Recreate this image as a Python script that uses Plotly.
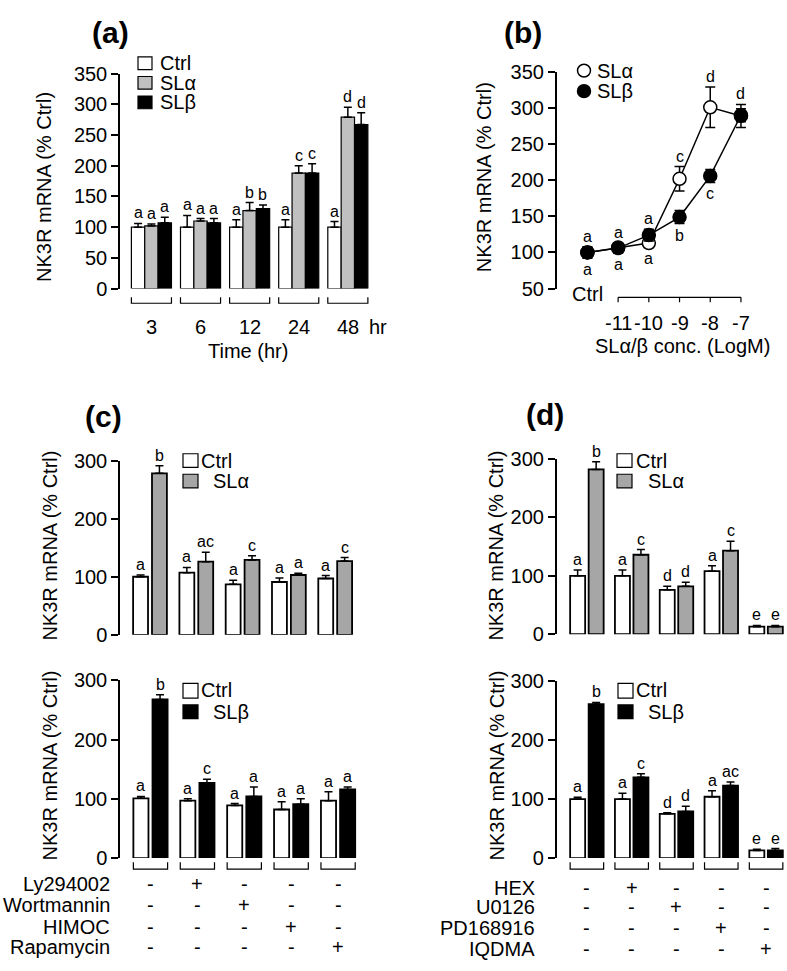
import plotly.graph_objects as go

W, H = 787, 971
FONT = "Liberation Sans, Arial, sans-serif"

# (a) time course
times = ["3", "6", "12", "24", "48"]
a_ctrl = [100, 100, 100, 100, 100]
a_ctrl_err = [6, 19, 12, 12, 9]
a_sla = [102, 110, 127, 188, 279]
a_sla_err = [3, 4, 13, 12, 16]
a_slb = [107, 107, 130, 188, 267]
a_slb_err = [9, 7, 6, 15, 19]
a_ctrl_lab = ["a", "a", "a", "a", "a"]
a_sla_lab = ["a", "a", "b", "c", "d"]
a_slb_lab = ["a", "a", "b", "c", "d"]

# (b) dose response
conc_labels = ["Ctrl", "-11", "-10", "-9", "-8", "-7"]
conc_x = [-12, -11, -10, -9, -8, -7]
b_sla = [100, 107, 113, 202, 301, 289]
b_sla_err = [7, 6, 6, 17, 28, 16]
b_slb = [100, 106, 124, 149, 206, 290]
b_slb_err = [8, 7, 8, 9, 9, 9]
b_lab_top = ["a", "a", "a", "c", "d", "d"]
b_lab_bot = ["a", "a", "a", "b", "c", ""]

# (c) PI3K / mTOR inhibitors
c_inhib = ["Ly294002", "Wortmannin", "HIMOC", "Rapamycin"]
c_ctrl_a = [100, 107, 87, 91, 97]
c_ctrl_a_err = [3, 9, 7, 7, 5]
c_sla = [278, 126, 129, 103, 127]
c_sla_err = [13, 16, 7, 3, 6]
c_ctrl_a_lab = ["a", "a", "a", "a", "a"]
c_sla_lab = ["b", "ac", "c", "a", "c"]
c_ctrl_b = [101, 97, 89, 82, 97]
c_ctrl_b_err = [3, 3, 3, 13, 15]
c_slb = [268, 127, 104, 91, 116]
c_slb_err = [8, 6, 16, 9, 4]
c_ctrl_b_lab = ["a", "a", "a", "a", "a"]
c_slb_lab = ["b", "c", "a", "a", "a"]

# (d) MAPK inhibitors
d_inhib = ["HEX", "U0126", "PD168916", "IQDMA"]
d_ctrl_a = [100, 100, 76, 108, 13]
d_ctrl_a_err = [10, 10, 6, 9, 2]
d_sla = [282, 136, 82, 143, 13]
d_sla_err = [13, 9, 7, 16, 2]
d_ctrl_a_lab = ["a", "a", "d", "a", "e"]
d_sla_lab = ["b", "c", "d", "c", "e"]
d_ctrl_b = [100, 100, 75, 104, 13]
d_ctrl_b_err = [3, 10, 2, 10, 2]
d_slb = [261, 137, 79, 123, 13]
d_slb_err = [3, 6, 9, 6, 3]
d_ctrl_b_lab = ["a", "a", "d", "a", "e"]
d_slb_lab = ["b", "c", "d", "ac", "e"]

GRAY_A = "#c0c0c0"
GRAY_C = "#a6a6a6"
FS = 20     # label font size
FL = 16     # significance letters


def px(x):
    return x / W


def py(y):
    return 1 - y / H


fig = go.Figure()
annotations = []
shapes = []


def text(t, x, y, size=FS, xanchor="center", yanchor="middle", xref="paper", yref="paper", **kw):
    if xref == "paper":
        x = px(x)
    if yref == "paper":
        y = py(y)
    annotations.append(dict(text=t, x=x, y=y, xref=xref, yref=yref, showarrow=False,
                            xanchor=xanchor, yanchor=yanchor,
                            font=dict(size=size, color="black", family=FONT), **kw))


def bars(vals, errs, labs, color, xa, ya, off, w, lw=1.2):
    n = len(vals)
    fig.add_trace(go.Bar(
        x=list(range(n)), y=vals, width=w, offset=off, xaxis=xa, yaxis=ya,
        marker=dict(color=color, line=dict(color="black", width=lw)),
        error_y=dict(type="data", symmetric=False, array=errs, arrayminus=[0] * n,
                     color="black", thickness=1.5, width=4),
        showlegend=False, hoverinfo="skip"))
    for i, (v, e, l) in enumerate(zip(vals, errs, labs)):
        text(l, i + off + w / 2, v + e, size=FL, xref=xa, yref=ya, yanchor="bottom", yshift=0)


def brackets(n, xa, left, right, top, bot):
    for i in range(n):
        shapes.append(dict(type="path", xref=xa, yref="paper",
                           path=f"M {i + left},{py(top)} L {i + left},{py(bot)} L {i + right},{py(bot)} L {i + right},{py(top)}",
                           line=dict(color="black", width=1.2)))


def sq(x0, x1, y0, y1, color):
    shapes.append(dict(type="rect", xref="paper", yref="paper", x0=px(x0), x1=px(x1),
                       y0=py(y1), y1=py(y0), fillcolor=color, line=dict(color="black", width=1.2)))


# ---- (a)
wa = 0.272
bars(a_ctrl, a_ctrl_err, a_ctrl_lab, "white", "x", "y", -1.5 * wa, wa)
bars(a_sla, a_sla_err, a_sla_lab, GRAY_A, "x", "y", -0.5 * wa, wa)
bars(a_slb, a_slb_err, a_slb_lab, "black", "x", "y", 0.5 * wa, wa)
brackets(len(times), "x", -1.5 * wa, 1.5 * wa, 293, 299)
for i, t in enumerate(times):
    text(t, i, 323, xref="x")
text("hr", 378, 323)
text("Time (hr)", 248, 348)
text("NK3R mRNA (% Ctrl)", 44, 180, textangle=-90)
text("<b>(a)</b>", 110, 22, size=30)
for (lab, col, yc) in [("Ctrl", "white", 53.5), ("SLα", GRAY_A, 73.5), ("SLβ", "black", 93.5)]:
    sq(138, 152, yc - 6.5, yc + 6.5, col)
    text(lab, 158, yc, xanchor="left")

# ---- (b)
fig.add_trace(go.Scatter(
    x=conc_x, y=b_sla, xaxis="x2", yaxis="y2", mode="lines+markers",
    line=dict(color="black", width=1.5),
    marker=dict(symbol="circle", size=13, color="white", line=dict(color="black", width=1.5)),
    error_y=dict(type="data", array=b_sla_err, color="black", thickness=1.5, width=5),
    showlegend=False, hoverinfo="skip"))
fig.add_trace(go.Scatter(
    x=conc_x, y=b_slb, xaxis="x2", yaxis="y2", mode="lines+markers",
    line=dict(color="black", width=1.5),
    marker=dict(symbol="circle", size=13, color="black", line=dict(color="black", width=1.5)),
    error_y=dict(type="data", array=b_slb_err, color="black", thickness=1.5, width=5),
    showlegend=False, hoverinfo="skip"))
for i, cx in enumerate(conc_x):
    top = max(b_sla[i] + b_sla_err[i], b_slb[i] + b_slb_err[i])
    bot = min(b_sla[i] - b_sla_err[i], b_slb[i] - b_slb_err[i])
    text(b_lab_top[i], cx, top, size=FL, xref="x2", yref="y2", yanchor="bottom", yshift=0)
    if b_lab_bot[i]:
        text(b_lab_bot[i], cx, bot, size=FL, xref="x2", yref="y2", yanchor="top", yshift=-1)
shapes.append(dict(type="line", xref="x2", yref="paper", x0=conc_x[1], x1=conc_x[-1],
                   y0=py(293), y1=py(293), line=dict(color="black", width=1.2)))
for cx in conc_x[1:]:
    shapes.append(dict(type="line", xref="x2", yref="paper", x0=cx, x1=cx,
                       y0=py(293), y1=py(298), line=dict(color="black", width=1.2)))
    text(conc_labels[conc_x.index(cx)], cx, 319, xref="x2")
text(conc_labels[0], conc_x[0], 290, xref="x2")
text("SLα/β conc. (LogM)", 682, 343)
text("NK3R mRNA (% Ctrl)", 484, 170, textangle=-90)
text("<b>(b)</b>", 523, 22, size=30)
for (lab, col, yc) in [("SLα", "white", 61), ("SLβ", "black", 82)]:
    shapes.append(dict(type="circle", xref="paper", yref="paper", x0=px(577.5), x1=px(590.5),
                       y0=py(yc + 6.5), y1=py(yc - 6.5), fillcolor=col,
                       line=dict(color="black", width=1.5)))
    text(lab, 595, yc, xanchor="left")

# ---- (c)
wc = 0.322
bars(c_ctrl_a, c_ctrl_a_err, c_ctrl_a_lab, "white", "x3", "y3", -0.365, wc, 1.8)
bars(c_sla, c_sla_err, c_sla_lab, GRAY_C, "x3", "y3", 0.043, wc, 1.8)
bars(c_ctrl_b, c_ctrl_b_err, c_ctrl_b_lab, "white", "x4", "y4", -0.365, wc, 1.8)
bars(c_slb, c_slb_err, c_slb_lab, "black", "x4", "y4", 0.043, wc, 1.8)
brackets(5, "x4", -0.365, 0.043 + wc, 871, 878)
text("NK3R mRNA (% Ctrl)", 50, 547, textangle=-90)
text("NK3R mRNA (% Ctrl)", 50, 772, textangle=-90)
text("<b>(c)</b>", 103, 415, size=30)
sq(183, 198, 453, 467, "white")
sq(183, 198, 474, 488, GRAY_C)
text("Ctrl", 199, 460, xanchor="left")
text("SLα", 211, 481, xanchor="left")
sq(183, 198, 688, 703, "white")
sq(183, 198, 710, 724, "black")
text("Ctrl", 199, 695, xanchor="left")
text("SLβ", 211, 717, xanchor="left")
rows_c = [893, 915, 937, 958]
for r, name in enumerate(c_inhib):
    text(name, 112, rows_c[r], xanchor="right")
    for g in range(5):
        text("+" if g == r + 1 else "-", g, rows_c[r], xref="x4")

# ---- (d)
wd = 0.335
bars(d_ctrl_a, d_ctrl_a_err, d_ctrl_a_lab, "white", "x5", "y5", -0.374, wd, 1.8)
bars(d_sla, d_sla_err, d_sla_lab, GRAY_C, "x5", "y5", 0.039, wd, 1.8)
bars(d_ctrl_b, d_ctrl_b_err, d_ctrl_b_lab, "white", "x6", "y6", -0.374, wd, 1.8)
bars(d_slb, d_slb_err, d_slb_lab, "black", "x6", "y6", 0.039, wd, 1.8)
brackets(5, "x6", -0.374, 0.039 + wd, 871, 878)
text("NK3R mRNA (% Ctrl)", 496, 547, textangle=-90)
text("NK3R mRNA (% Ctrl)", 497, 772, textangle=-90)
text("<b>(d)</b>", 545, 413, size=30)
sq(617, 632, 453, 467, "white")
sq(617, 632, 474, 488, GRAY_C)
text("Ctrl", 634, 460, xanchor="left")
text("SLα", 646, 481, xanchor="left")
sq(618, 633, 688, 703, "white")
sq(618, 633, 710, 724, "black")
text("Ctrl", 634, 695, xanchor="left")
text("SLβ", 646, 717, xanchor="left")
rows_d = [897, 917, 938, 960]
for r, name in enumerate(d_inhib):
    text(name, 537, rows_d[r], xanchor="right")
    for g in range(5):
        text("+" if g == r + 1 else "-", g, rows_d[r], xref="x6")


def xax(x0, x1, rng, anchor):
    return dict(domain=[px(x0), px(x1)], range=rng, visible=False, anchor=anchor, fixedrange=True)


def yax(top, bot, rng, dtick, anchor):
    return dict(domain=[py(bot), py(top)], range=rng, anchor=anchor, tickmode="linear",
                tick0=rng[0], dtick=dtick, ticks="outside", ticklen=7, tickwidth=1.5,
                tickcolor="black", showline=True, linecolor="black", linewidth=1.5,
                showgrid=False, zeroline=False, fixedrange=True,
                tickfont=dict(size=FS, color="black", family=FONT))


fig.update_layout(
    width=W, height=H, margin=dict(l=0, r=0, t=0, b=0),
    paper_bgcolor="white", plot_bgcolor="white", barmode="overlay",
    font=dict(family=FONT, color="black"),
    xaxis=xax(120, 380, [-0.64, 4.655], "y"),
    yaxis=yax(64, 284, [0, 350], 50, "x"),
    xaxis2=xax(556.7, 760, [-13, -6.38], "y2"),
    yaxis2=yax(62.3, 284, [50, 350], 50, "x2"),
    xaxis3=xax(120, 365, [-0.648, 4.644], "y3"),
    yaxis3=yax(460, 638.3, [0, 300], 100, "x3"),
    xaxis4=xax(120, 365, [-0.65, 4.574], "y4"),
    yaxis4=yax(685, 866.7, [0, 300], 100, "x4"),
    xaxis5=xax(556.7, 787, [-0.674, 4.467], "y5"),
    yaxis5=yax(458.3, 637.7, [0, 300], 100, "x5"),
    xaxis6=xax(556.7, 787, [-0.674, 4.467], "y6"),
    yaxis6=yax(685.7, 866.7, [0, 300], 100, "x6"),
    annotations=annotations, shapes=shapes,
)

# the page's default body margin would push the 787x971 figure off by 8 px
fig.write_html("out.html", config={"displayModeBar": False},
               post_script="document.body.style.margin = '0';")
